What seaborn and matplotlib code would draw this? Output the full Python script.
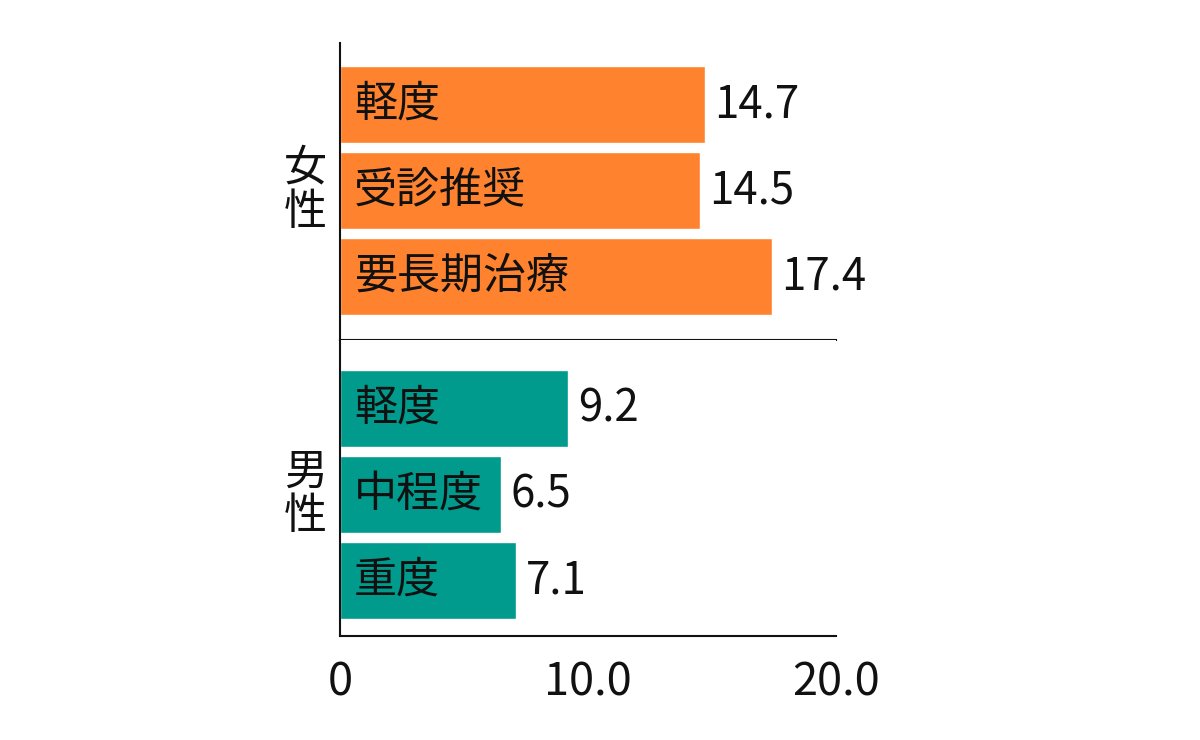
import matplotlib
matplotlib.use("Agg")
import matplotlib.pyplot as plt
import matplotlib.transforms as mtransforms
import seaborn as sns
import pandas as pd

# data
female_cats = ["軽度", "受診推奨", "要長期治療"]
female_vals = [14.7, 14.5, 17.4]
male_cats = ["軽度", "中程度", "重度"]
male_vals = [9.2, 6.5, 7.1]
group_labels = ["女性", "男性"]
x_ticks = [0, 10, 20]
x_tick_labels = ["0", "10.0", "20.0"]

ORANGE = "#FF832F"
TEAL = "#009B8D"
INK = "#111111"

sns.set_theme(style="white")
plt.rcParams['font.family'] = ['Noto Sans CJK JP', 'DejaVu Sans']

fig = plt.figure(figsize=(12, 7.4), dpi=100)
W, H = 1200, 740
left, width = 340 / W, 496 / W
ax_f = fig.add_axes([left, 1 - 340 / H, width, 297 / H])
ax_m = fig.add_axes([left, 1 - 636 / H, width, 296 / H])

df_f = pd.DataFrame({"cat": female_cats, "val": female_vals})
df_m = pd.DataFrame({"cat": male_cats, "val": male_vals})

panels = [
    (ax_f, df_f, ORANGE, group_labels[0], (2.738, -0.715)),
    (ax_m, df_m, TEAL, group_labels[1], (2.645, -0.797)),
]

for ax, df, col, glabel, ylim in panels:
    sns.barplot(data=df, x="val", y="cat", color=col, saturation=1,
                width=0.895, ax=ax)
    ax.set_xlim(0, 20)
    ax.set_ylim(*ylim)
    ax.set_xlabel("")
    ax.set_ylabel("")
    ax.set_yticks([])
    for side in ["top", "right"]:
        ax.spines[side].set_visible(False)
    for side in ["left", "bottom"]:
        ax.spines[side].set_color(INK)
        ax.spines[side].set_linewidth(1.5)

    for i, (c, v) in enumerate(zip(df["cat"], df["val"])):
        ax.annotate(c, xy=(0, i), xytext=(10, 0), textcoords="offset points",
                    ha="left", va="center", fontsize=31, color=INK)
        ax.annotate(f"{v:.1f}", xy=(v, i), xytext=(7, 0),
                    textcoords="offset points", ha="left", va="center",
                    fontsize=31.5, color=INK)

    trans = mtransforms.blended_transform_factory(ax.transAxes, ax.transData)
    ax.text(-0.07, 1, "\n".join(glabel), transform=trans, ha="center",
            va="center", fontsize=31, linespacing=1.0, color=INK)

ax_f.set_xticks([])
ax_m.set_xticks(x_ticks)
ax_m.set_xticklabels(x_tick_labels)
ax_m.tick_params(axis="x", length=0, pad=17, labelsize=32.5, labelcolor=INK)

fig.savefig("out.png", dpi=100)
